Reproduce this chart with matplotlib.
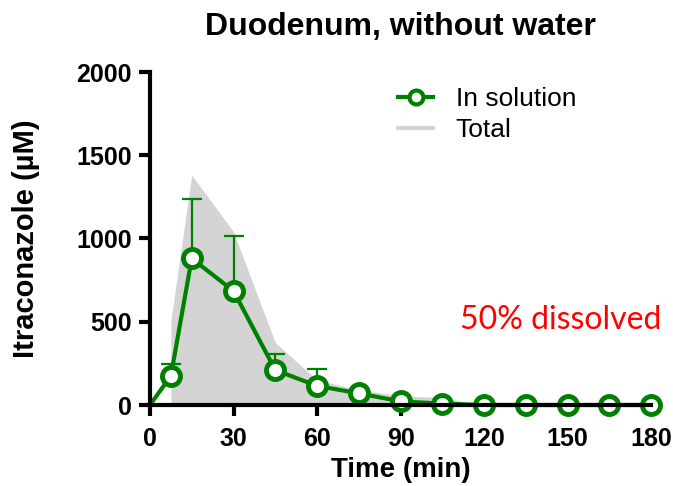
import matplotlib
matplotlib.use("Agg")
import matplotlib.pyplot as plt
import numpy as np
from matplotlib.lines import Line2D

time_sol = [0, 7.5, 15, 30, 45, 60, 75, 90, 105, 120, 135, 150, 165, 180]
sol = [0, 175, 880, 685, 210, 115, 70, 22, 8, 0, 0, 0, 0, 0]
sol_err_up = [0, 70, 360, 330, 95, 100, 0, 0, 0, 0, 0, 0, 0, 0]

time_tot = [7.5, 7.5, 15, 30, 45, 60, 75, 90, 105, 118]
total = [0, 510, 1381, 1040, 375, 150, 92, 55, 45, 0]

xticks = [0, 30, 60, 90, 120, 150, 180]
yticks = [0, 500, 1000, 1500, 2000]

plt.rcParams['font.family'] = ['Liberation Sans', 'DejaVu Sans']

fig = plt.figure(figsize=(6.73, 4.86), dpi=100)
ax = fig.add_axes([150/673, 1-405/486, (651-150)/673, (405-72)/486])

green = '#008000'
ax.fill_between(time_tot, total, 0, color='#d4d4d4', lw=0, zorder=1, label='Total')

err = np.array(sol_err_up)
mask = err > 0
ax.errorbar(np.array(time_sol)[mask], np.array(sol)[mask],
            yerr=[np.zeros(mask.sum()), err[mask]], fmt='none',
            ecolor=green, elinewidth=1.6, capsize=7, capthick=1.6, zorder=2)

ax.plot(time_sol, sol, color=green, lw=3, zorder=3)
ax.plot(time_sol[1:], sol[1:], ls='none', marker='o', ms=13, mfc='white',
        mec=green, mew=3.5, zorder=4)

h1 = Line2D([], [], color=green, lw=3, marker='o', ms=10, mfc='white', mec=green, mew=3)
h2 = Line2D([], [], color='#d4d4d4', lw=3)
leg = ax.legend([h1, h2], ['In solution', 'Total'], loc='upper left',
                bbox_to_anchor=(0.447, 1.025), frameon=False, fontsize=19,
                handlelength=1.35, handletextpad=0.85, labelspacing=0.24)

ax.set_xlim(0, 180)
ax.set_ylim(0, 2000)
ax.set_xticks(xticks)
ax.set_yticks(yticks)
for s in ['top', 'right']:
    ax.spines[s].set_visible(False)
for s in ['left', 'bottom']:
    ax.spines[s].set_linewidth(3)
    ax.spines[s].set_zorder(5)
ax.tick_params(width=3, length=8, labelsize=18)
ax.tick_params(axis='x', pad=8)
ax.tick_params(axis='y', pad=5)
for lab in ax.get_xticklabels() + ax.get_yticklabels():
    lab.set_fontweight('bold')

ax.set_xlabel('Time (min)', fontsize=20, fontweight='bold', labelpad=4)
ax.set_ylabel('Itraconazole (µM)', fontsize=21, fontweight='bold', labelpad=26)
ax.set_title('Duodenum, without water', fontsize=23, fontweight='bold', pad=27)

ax.text(147.5, 510, '50% dissolved', color='#ff0000',
        fontsize=23, family=['Lato', 'DejaVu Sans'], ha='center', va='center')

for a in ax.lines + ax.collections:
    a.set_clip_on(False)

fig.savefig('out.png', dpi=100)
